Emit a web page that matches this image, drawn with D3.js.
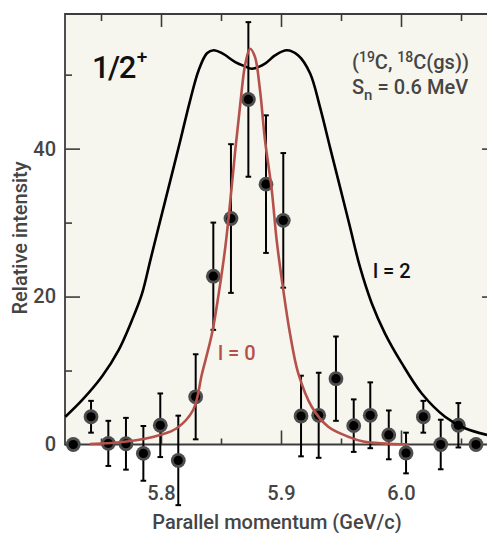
<!DOCTYPE html>
<html>
<head>
<meta charset="utf-8">
<script src="https://cdn.jsdelivr.net/npm/d3@7"></script>
<style>
  html, body { margin: 0; padding: 0; background: #ffffff; }
  svg { display: block; }
  text { font-family: Roboto, "Noto Sans", sans-serif; font-weight: 500; }
</style>
</head>
<body>
<svg id="chart" width="487" height="533"></svg>
<script>
// Measured momentum distribution (GeV/c) with symmetric error bars
const momentum = [5.7269, 5.7417, 5.7561, 5.7708, 5.7853, 5.7994, 5.8144, 5.8289,
                  5.8436, 5.8583, 5.8728, 5.8875, 5.9019, 5.9167, 5.9314, 5.9458,
                  5.9606, 5.9744, 5.9898, 6.0042, 6.0186, 6.0331, 6.0478, 6.0625];
const intensity = [0, 3.75, 0.15, 0.1, -1.2, 2.6, -2.15, 6.45,
                   22.75, 30.55, 46.65, 35.2, 30.3, 3.85, 3.95, 8.9,
                   2.55, 3.95, 1.3, -1.15, 3.75, 0, 2.6, 0];
const errors = [0, 2.15, 3.05, 3.5, 3.7, 4.3, 6.05, 5.75,
                7.25, 10.05, 10.45, 9.3, 9.1, 5.45, 5.75, 5.7,
                3.55, 4.45, 3.3, 2.75, 2.15, 3.35, 3.0, 0];

// l = 2 calculation
const l2Momentum = [5.7203, 5.7342, 5.7508, 5.7648, 5.7758, 5.7842, 5.7911, 5.7994,
                    5.8078, 5.8161, 5.8244, 5.8314, 5.8383, 5.8439, 5.8508, 5.8619,
                    5.8703, 5.8756, 5.8867, 5.8950, 5.9048, 5.9144, 5.9242, 5.9325,
                    5.9408, 5.9492, 5.9575, 5.9658, 5.9756, 5.9867, 6.0006, 6.0173,
                    6.0367, 6.0533, 6.0717];
const l2Intensity = [3.76, 6.0, 9.2, 12.8, 16.8, 20.4, 24.9, 30.3,
                     35.7, 41.1, 46.6, 50.6, 52.9, 53.3, 52.9, 51.7,
                     51.1, 50.8, 51.5, 52.6, 53.3, 52.6, 50.2, 45.6,
                     40.2, 34.8, 29.4, 24.0, 19.1, 15.0, 11.0, 6.9,
                     3.76, 2.2, 1.3];

// l = 0 calculation
const l0Momentum = [5.7408, 5.7714, 5.7992, 5.8131, 5.8269, 5.8342, 5.8425, 5.8481,
                    5.8536, 5.8578, 5.8619, 5.8661, 5.8703, 5.8742, 5.8783, 5.8825,
                    5.8867, 5.8923, 5.8964, 5.9019, 5.9075, 5.9144, 5.9256, 5.9394,
                    5.9561, 5.9686, 6.0061];
const l0Intensity = [0.07, 0.4, 1.3, 2.2, 4.7, 9.6, 15.0, 20.4,
                     26.7, 33.0, 39.8, 46.1, 51.5, 53.5, 52.4, 47.9,
                     41.1, 34.4, 27.6, 20.9, 15.0, 9.6, 5.1, 2.4,
                     1.05, 0.4, 0.0];

const xMajorTicks = [5.8, 5.9, 6.0];
const xTickLabels = ["5.8", "5.9", "6.0"];
const xMinorTicks = [5.75, 5.85, 5.95, 6.05];
const yMajorTicks = [0, 20, 40];
const yTickLabels = ["0", "20", "40"];
const yMinorTicks = [10, 30, 50];

const svg = d3.select("#chart");
const plotLeft = 65, plotRight = 489, plotTop = 14, plotBottom = 444.5;

const x = d3.scaleLinear().domain([5.72, 5.72 + (plotRight - plotLeft) / 1200]).range([plotLeft, plotRight]);
const y = d3.scaleLinear().domain([0, 58.2]).range([plotBottom, plotTop]);

const frameColor = "#3c3c3c";
const labelColor = "#454545";
const red = "#b5514b";

// plot background
svg.append("rect")
  .attr("x", plotLeft).attr("y", plotTop)
  .attr("width", plotRight - plotLeft).attr("height", plotBottom - plotTop)
  .attr("fill", "#f6f5ee");

// axes with inward ticks
function styleAxis(g) {
  g.select(".domain").remove();
  g.selectAll(".tick line").attr("stroke", frameColor).attr("stroke-width", 1.6);
  g.selectAll(".tick text")
    .attr("fill", labelColor)
    .style("font-size", "20px")
    .style("font-weight", 500)
    .style("font-family", "Roboto, sans-serif");
}

svg.append("g").attr("transform", `translate(0,${plotBottom})`)
  .call(d3.axisBottom(x).tickValues(xMajorTicks).tickSize(-14).tickPadding(41)
        .tickFormat((d, i) => xTickLabels[i]))
  .call(styleAxis);
svg.append("g").attr("transform", `translate(0,${plotBottom})`)
  .call(d3.axisBottom(x).tickValues(xMinorTicks).tickSize(-6).tickFormat(""))
  .call(styleAxis);
svg.append("g").attr("transform", `translate(0,${plotTop})`)
  .call(d3.axisTop(x).tickValues(xMajorTicks).tickSize(-13).tickFormat(""))
  .call(styleAxis);
svg.append("g").attr("transform", `translate(0,${plotTop})`)
  .call(d3.axisTop(x).tickValues(xMinorTicks).tickSize(-7).tickFormat(""))
  .call(styleAxis);
svg.append("g").attr("transform", `translate(${plotLeft},0)`)
  .call(d3.axisLeft(y).tickValues(yMajorTicks).tickSize(-15).tickPadding(9)
        .tickFormat((d, i) => yTickLabels[i]))
  .call(styleAxis);
svg.append("g").attr("transform", `translate(${plotLeft},0)`)
  .call(d3.axisLeft(y).tickValues(yMinorTicks).tickSize(-7).tickFormat(""))
  .call(styleAxis);
svg.append("g").attr("transform", `translate(${plotRight},0)`)
  .call(d3.axisRight(y).tickValues([20, 40]).tickSize(-7).tickFormat(""))
  .call(styleAxis);

// frame lines
svg.append("path")
  .attr("d", `M${plotRight},${plotTop}H${plotLeft}V${plotBottom}H${plotRight}`)
  .attr("fill", "none").attr("stroke", frameColor).attr("stroke-width", 1.8);

// error bars
const pts = momentum.map((m, i) => ({ m, v: intensity[i], e: errors[i] }));
const bars = svg.append("g").attr("stroke", "#000").attr("stroke-width", 2);
pts.filter(d => d.e > 0).forEach(d => {
  const cx = x(d.m);
  bars.append("line").attr("x1", cx).attr("x2", cx)
    .attr("y1", y(d.v - d.e)).attr("y2", y(d.v + d.e));
  [d.v - d.e, d.v + d.e].forEach(t => {
    bars.append("line").attr("x1", cx - 2.8).attr("x2", cx + 2.8)
      .attr("y1", y(t)).attr("y2", y(t));
  });
});

// data points: dark halo with black core
const defs = svg.append("defs");
defs.append("filter").attr("id", "soft")
  .append("feGaussianBlur").attr("stdDeviation", 0.7);
const dots = svg.append("g");
dots.selectAll("circle.halo").data(pts).join("circle")
  .attr("class", "halo")
  .attr("cx", d => x(d.m)).attr("cy", d => y(d.v)).attr("r", 7.4)
  .attr("fill", "#4d4e4e").attr("filter", "url(#soft)");
dots.selectAll("circle.core").data(pts).join("circle")
  .attr("class", "core")
  .attr("cx", d => x(d.m)).attr("cy", d => y(d.v)).attr("r", 4.6)
  .attr("fill", "#000");

// calculated curves
const line = d3.line()
  .x(d => x(d[0])).y(d => y(d[1]))
  .curve(d3.curveCatmullRom.alpha(0.5));
svg.append("path")
  .attr("d", line(l2Momentum.map((m, i) => [m, l2Intensity[i]])))
  .attr("fill", "none").attr("stroke", "#000").attr("stroke-width", 2.6);
svg.append("path")
  .attr("d", line(l0Momentum.map((m, i) => [m, l0Intensity[i]])))
  .attr("fill", "none").attr("stroke", red).attr("stroke-width", 2.6);

// annotations
const spin = svg.append("text").attr("x", 92).attr("y", 78)
  .attr("fill", "#111").style("font-size", "31px").style("letter-spacing", "-1.5px");
spin.append("tspan").text("1/2");
spin.append("tspan").attr("dx", 2).attr("dy", -15).style("font-size", "19px").text("+");

const reaction = svg.append("text").attr("x", 352).attr("y", 69)
  .attr("fill", labelColor).style("font-size", "20px");
reaction.append("tspan").text("(");
reaction.append("tspan").attr("dy", -7).style("font-size", "14px").text("19");
reaction.append("tspan").attr("dy", 7).text("C, ");
reaction.append("tspan").attr("dy", -7).style("font-size", "14px").text("18");
reaction.append("tspan").attr("dy", 7).text("C(gs))");

const sep = svg.append("text").attr("x", 352).attr("y", 94)
  .attr("fill", labelColor).style("font-size", "20px");
sep.append("tspan").text("S");
sep.append("tspan").attr("dy", 6).style("font-size", "15px").text("n");
sep.append("tspan").attr("dy", -6).text(" = 0.6 MeV");

svg.append("text").attr("x", 373).attr("y", 278)
  .attr("fill", "#111").style("font-size", "20px").text("l = 2");
svg.append("text").attr("x", 218).attr("y", 360)
  .attr("fill", red).style("font-size", "20px").text("l = 0");

// axis titles
svg.append("text").attr("x", 277).attr("y", 529)
  .attr("text-anchor", "middle").attr("fill", labelColor)
  .style("font-size", "20px").text("Parallel momentum (GeV/c)");
svg.append("text")
  .attr("transform", "translate(27,238) rotate(-90)")
  .attr("text-anchor", "middle").attr("fill", labelColor)
  .style("font-size", "20px").text("Relative intensity");
</script>
</body>
</html>
